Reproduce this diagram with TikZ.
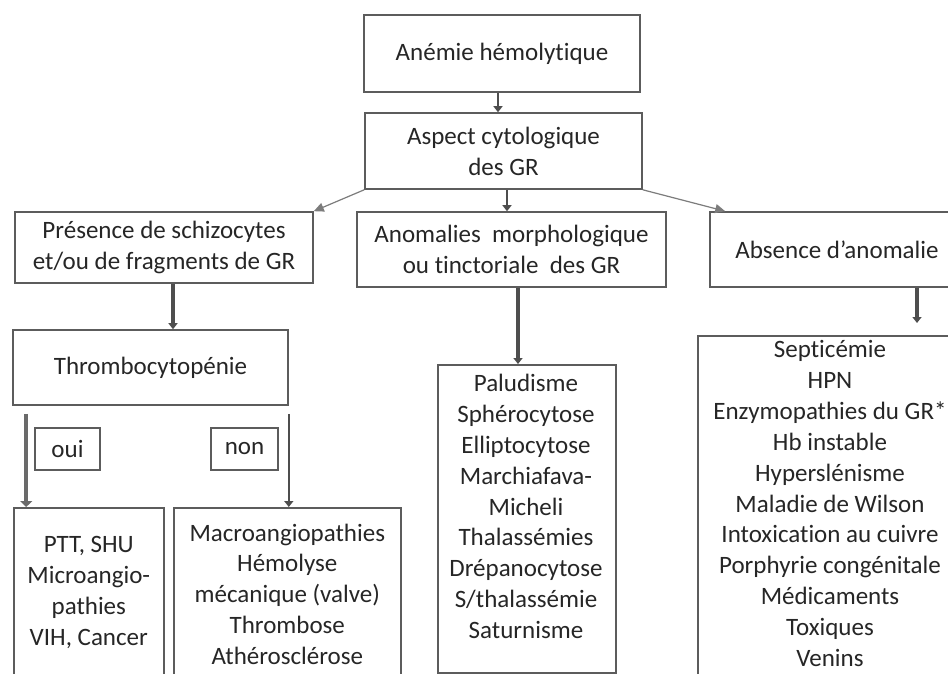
\documentclass[tikz,border=0pt]{standalone}
\usepackage{fontspec}
\setmainfont{Carlito}[Ligatures={TeX,NoCommon}]
\usetikzlibrary{arrows.meta,calc}
\definecolor{boxc}{HTML}{5C5C5C}
\definecolor{txtc}{HTML}{262626}
\definecolor{arrc}{HTML}{4E4E4E}
\definecolor{ouic}{HTML}{6A6A6A}
\definecolor{diagc}{HTML}{7C7C7C}
\begin{document}
\begin{tikzpicture}[x=0.5pt,y=-0.5pt,
  font=\fontsize{12.5}{15.45}\selectfont,
  box/.style={draw=boxc, line width=0.8pt, inner sep=0pt, text=txtc, align=center},
  lst/.style={text=txtc, align=center, inner sep=0pt},
  conn/.style={draw=arrc, line width=1.2pt, -{Triangle[length=3pt,width=4.5pt]}},
  ouiarrow/.style={draw=ouic, line width=2pt, -{Triangle[length=3pt,width=6pt]}},
  diag/.style={draw=diagc, line width=0.6pt, -{Triangle[length=5pt,width=4.5pt]}}
]
\useasboundingbox (0,0) rectangle (948,674);
\fill[white] (0,0) rectangle (948,674);
\clip (0,0) rectangle (948,674);

% nodes
\node[box, minimum width=138pt, minimum height=38.5pt] (hemo) at (502,53.5) {Anémie hémolytique};
\node[box, minimum width=138.5pt, minimum height=38pt] (aspect) at (503.5,151) {Aspect cytologique\\des GR};
\node[box, minimum width=149pt, minimum height=35.5pt] (pres) at (164,247.5) {Présence de schizocytes\\et/ou de fragments de GR};
\node[box, minimum width=154.5pt, minimum height=37.5pt] (anom) at (511.5,249.5) {Anomalies\ \ morphologique\\ou tinctoriale\ \ des GR};
\node[box, minimum width=127pt, minimum height=37.5pt] (abs) at (837,249.5) {Absence d'anomalie};
\node[box, minimum width=137.5pt, minimum height=37.5pt] (thr) at (150.5,367.5) {Thrombocytopénie};
\node[box, line width=0.6pt, minimum width=32.5pt, minimum height=21pt] (oui) at (67.5,449) {oui};
\node[box, line width=0.6pt, minimum width=33.5pt, minimum height=21pt] (non) at (244.5,449) {non};
\node[box, minimum width=75pt, minimum height=84.5pt, anchor=north west] (ptt) at (13,507)
  {PTT, SHU\\Microangio-\\pathies\\VIH, Cancer};
\node[box, minimum width=113.5pt, minimum height=86.5pt, anchor=north west] (macro) at (173,507)
  {Macroangiopathies\\Hémolyse\\mécanique (valve)\\Thrombose\\Athérosclérose};
\node[box, minimum width=89pt, minimum height=154pt, anchor=north west] (palu) at (437,364) {};
\node[lst] (palutxt) at (526,506.5)
  {Paludisme\\Sphérocytose\\Elliptocytose\\Marchiafava-\\Micheli\\Thalassémies\\Drépanocytose\\S/thalassémie\\Saturnisme};
\node[box, minimum width=134pt, minimum height=175pt, anchor=north west] (sept) at (697,335) {};
\node[lst] (septtxt) at (830,503.5)
  {Septicémie\\HPN\\Enzymopathies du GR*\\Hb instable\\Hyperslénisme\\Maladie de Wilson\\Intoxication au cuivre\\Porphyrie congénitale\\Médicaments\\Toxiques\\Venins};

% connectors
\draw[conn] ([xshift=-2pt]hemo.south) -- ([xshift=-2pt]hemo.south |- aspect.north);
\draw[conn] ([xshift=-2.25pt]anom.north |- aspect.south) -- ([xshift=-2.25pt]anom.north);
\draw[diag] (aspect.south west) -- (pres.north east);
\draw[diag] (aspect.south east) -- ([xshift=8pt]abs.north west);
\draw[conn, line width=1.6pt] ([xshift=4.5pt]pres.south) -- ([xshift=4.5pt]pres.south |- thr.north);
\draw[ouiarrow] ($(thr.south west)+(7pt,-4pt)$) -- ([xshift=7pt]thr.south west |- ptt.north);
\draw[conn] ($(thr.south east)+(0pt,-4pt)$) -- (thr.south east |- macro.north);
\draw[conn, line width=1.6pt] ([xshift=3.25pt]anom.south) -- ([xshift=3.25pt]anom.south |- palu.north);
\draw[conn, line width=1.6pt] ([xshift=40pt]abs.south) -- ($(abs.south |- sept.north)+(40pt,6pt)$);
\end{tikzpicture}
\end{document}
